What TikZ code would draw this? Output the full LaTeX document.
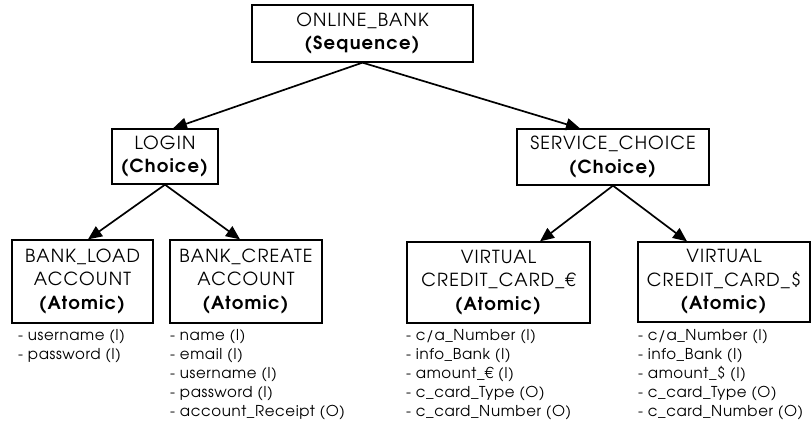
\documentclass[tikz,border=0pt]{standalone}
\usepackage{fontspec}
\setmainfont{texgyreadventor-regular.otf}[BoldFont=texgyreadventor-bold.otf]
\usetikzlibrary{
  calc,
  arrows.meta
  }

\begin{document}
\begin{tikzpicture}[x=1pt,y=1pt]
    \useasboundingbox (0,0) rectangle (811,-423);
    \tikzset{box/.style = {draw, line width=1.3pt, align=center, inner sep=0pt,
        font=\fontsize{18}{23.5}\selectfont\addfontfeature{LetterSpace=6.5},
        execute at begin node={\rule{0pt}{18.5pt}}}}
    \tikzset{attr/.style = {anchor=north west, align=left, inner sep=0pt,
        font=\fontsize{15}{19}\selectfont\addfontfeature{LetterSpace=4}}}
    \tikzset{conn/.style = {line width=1.7pt, -{Triangle[length=14pt,width=12pt]}}}

    % radice
    \node [box, minimum width=221pt, minimum height=57pt] (online) at (362.5,-33.5) {ONLINE\_BANK\\\textbf{(Sequence)}};
    % scelte
    \node [box, minimum width=106pt, minimum height=55pt] (login) at (165,-156.5) {LOGIN\\\textbf{(Choice)}};
    \node [box, minimum width=192pt, minimum height=56pt] (service) at (613,-157) {SERVICE\_CHOICE\\\textbf{(Choice)}};
    % foglie
    \node [box, minimum width=141pt, minimum height=83pt] (load) at (82.5,-281.5) {BANK\_LOAD\\ACCOUNT\\\textbf{(Atomic)}};
    \node [box, minimum width=152pt, minimum height=83pt] (create) at (246,-281.5) {BANK\_CREATE\\ACCOUNT\\\textbf{(Atomic)}};
    \node [box, minimum width=183pt, minimum height=81pt] (euro) at (498.5,-282.5) {VIRTUAL\\CREDIT\_CARD\_€\\\textbf{(Atomic)}};
    \node [box, minimum width=172pt, minimum height=80pt] (dollar) at (724,-282) {VIRTUAL\\CREDIT\_CARD\_\$\\\textbf{(Atomic)}};

    % parametri
    \node [attr] (loadpar) at (18,-329.5) {- username (I)\\- password (I)};
    \node [attr] (createpar) at (170,-329.5) {- name (I)\\- email (I)\\- username (I)\\- password (I)\\- account\_Receipt (O)};
    \node [attr] (europar) at (406,-329.5) {- c/a\_Number (I)\\- info\_Bank (I)\\- amount\_€ (I)\\- c\_card\_Type (O)\\- c\_card\_Number (O)};
    \node [attr] (dollarpar) at (638,-329.5) {- c/a\_Number (I)\\- info\_Bank (I)\\- amount\_\$ (I)\\- c\_card\_Type (O)\\- c\_card\_Number (O)};

    % frecce
    \draw [conn] (online.south) -- ($(login.north)+(8,0)$);
    \draw [conn] (online.south) -- ($(service.north)+(-33,0)$);
    \draw [conn] (login.south) -- ($(load.north)+(5.5,0)$);
    \draw [conn] (login.south) -- ($(create.north)+(-6,0)$);
    \draw [conn] (service.south) -- ($(euro.north)+(41.5,0)$);
    \draw [conn] (service.south) -- ($(dollar.north)+(-37,0)$);

  \end{tikzpicture}
\end{document}
